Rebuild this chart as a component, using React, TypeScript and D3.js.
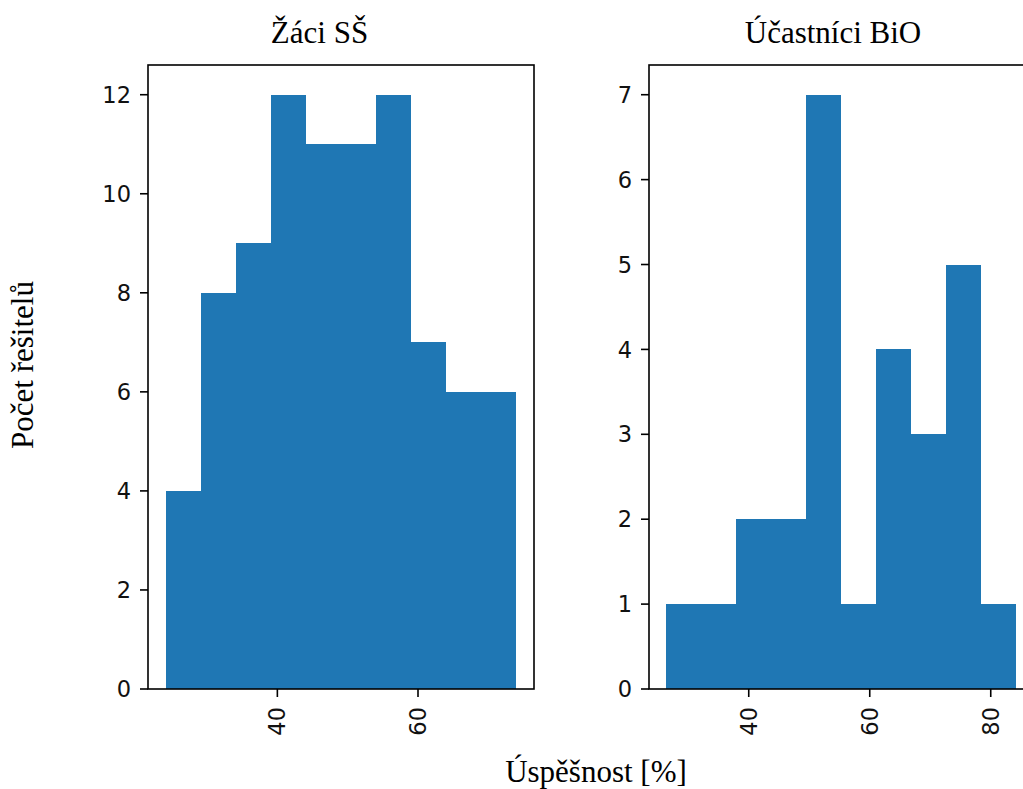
import React from "react";
import * as d3 from "d3";

const zaciCounts = [4, 8, 9, 12, 11, 11, 12, 7, 6, 6];
const zaciRange = [24.1, 74.0];
const zaciXTicks = [40, 60];
const zaciYTicks = [0, 2, 4, 6, 8, 10, 12];

const bioCounts = [1, 1, 2, 2, 7, 1, 4, 3, 5, 1];
const bioRange = [26.4, 84.1];
const bioXTicks = [40, 60, 80];
const bioYTicks = [0, 1, 2, 3, 4, 5, 6, 7];

const titles = ["Žáci SŠ", "Účastníci BiO"];
const xLabel = "Úspěšnost [%]";
const yLabel = "Počet řešitelů";

const W = 1023;
const H = 789;
const TOP = 65;
const BOTTOM = 689;
const BLUE = "#1f77b4";
const TICK_FONT = "'DejaVu Sans', sans-serif";
const SERIF = "'Liberation Serif', 'Times New Roman', serif";

type PanelProps = {
  counts: number[];
  range: number[];
  xTicks: number[];
  yTicks: number[];
  left: number;
  right: number;
  title: string;
  titleX: number;
};

function Panel({ counts, range, xTicks, yTicks, left, right, title, titleX }: PanelProps) {
  const n = counts.length;
  const [lo, hi] = range;
  const w = hi - lo;
  const x = d3.scaleLinear().domain([lo - 0.05 * w, hi + 0.05 * w]).range([left, right]);
  const maxC = d3.max(counts) as number;
  const y = d3.scaleLinear().domain([0, maxC * 1.05]).range([BOTTOM, TOP]);
  const edges = d3.range(n + 1).map((i) => lo + (w * i) / n);
  const tickLen = 8;
  const sw = 1.6;
  return (
    <g>
      {counts.map((c, i) => (
        <rect
          key={i}
          x={x(edges[i])}
          y={y(c)}
          width={x(edges[i + 1]) - x(edges[i])}
          height={y(0) - y(c)}
          fill={BLUE}
          shapeRendering="crispEdges"
        />
      ))}
      <rect x={left} y={TOP} width={right - left} height={BOTTOM - TOP} fill="none" stroke="#000" strokeWidth={sw} />
      {yTicks.map((t) => (
        <g key={"y" + t}>
          <line x1={left - tickLen} x2={left} y1={y(t)} y2={y(t)} stroke="#000" strokeWidth={sw} />
          <text
            x={left - tickLen - 9}
            y={y(t)}
            dy="0.36em"
            textAnchor="end"
            fontFamily={TICK_FONT}
            fontSize={22.5}
            fill="#111"
          >
            {t}
          </text>
        </g>
      ))}
      {xTicks.map((t) => (
        <g key={"x" + t}>
          <line x1={x(t)} x2={x(t)} y1={BOTTOM} y2={BOTTOM + tickLen} stroke="#000" strokeWidth={sw} />
          <text
            transform={`translate(${x(t)},${BOTTOM + tickLen + 10}) rotate(-90)`}
            dy="0.36em"
            textAnchor="end"
            fontFamily={TICK_FONT}
            fontSize={22.5}
            fill="#111"
          >
            {t}
          </text>
        </g>
      ))}
      <text x={titleX} y={43} textAnchor="middle" fontFamily={SERIF} fontSize={31} fill="#000">
        {title}
      </text>
    </g>
  );
}

export default function App() {
  return (
    <svg
      width={W}
      height={H}
      viewBox={`0 0 ${W} ${H}`}
      style={{ position: "absolute", left: 0, top: 0, background: "#fff", overflow: "hidden" }}
    >
      <rect x={0} y={0} width={W} height={H} fill="#fff" />
      <Panel
        counts={zaciCounts}
        range={zaciRange}
        xTicks={zaciXTicks}
        yTicks={zaciYTicks}
        left={148}
        right={534}
        title={titles[0]}
        titleX={319.5}
      />
      <Panel
        counts={bioCounts}
        range={bioRange}
        xTicks={bioXTicks}
        yTicks={bioYTicks}
        left={649}
        right={1033}
        title={titles[1]}
        titleX={833}
      />
      <text x={596} y={782} textAnchor="middle" fontFamily={SERIF} fontSize={31} fill="#000">
        {xLabel}
      </text>
      <text
        transform={`translate(33,365) rotate(-90)`}
        textAnchor="middle"
        fontFamily={SERIF}
        fontSize={31}
        fill="#000"
      >
        {yLabel}
      </text>
    </svg>
  );
}
